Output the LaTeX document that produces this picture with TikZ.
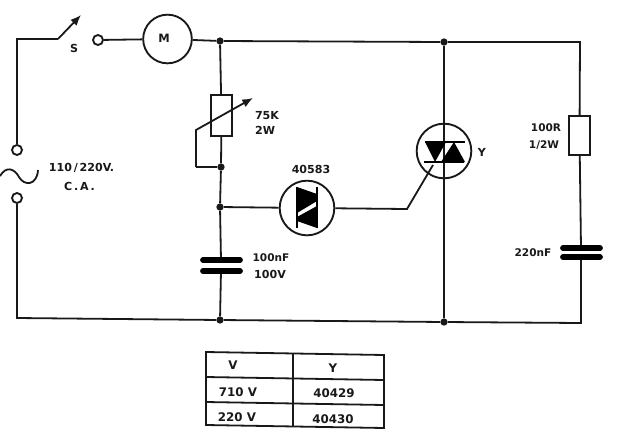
\documentclass[tikz,border=0pt]{standalone}
\usepackage{fontspec}
\setmainfont{DejaVu Sans}
\usetikzlibrary{arrows.meta}
\tikzset{
  wire/.style={line width=1.35pt,black!90},
  part/.style={draw=black!90,line width=1.4pt,fill=white,inner sep=0pt},
  term/.style={circle,part,minimum size=7.5pt},
  dot/.style={circle,fill=black!90,inner sep=0pt,minimum size=5.5pt},
  plate/.style={line width=4.3pt,line cap=round,black},
  sym/.style={fill=black,draw=none},
  bar/.style={line width=1.8pt,black},
  lbl/.style={font=\bfseries\fontsize{8.3}{9}\selectfont,inner sep=0pt,black!90},
  cell/.style={font=\bfseries\fontsize{8.9}{9}\selectfont,inner sep=0pt,black!90},
  tbl/.style={line width=1.35pt,black!90},
  tip/.style={-{Latex[length=8pt,width=6.5pt]}}
}
\begin{document}
\begin{tikzpicture}[x=0.75pt,y=-0.75pt]
\useasboundingbox (0,0) rectangle (625,433);
% nodes
\node[term] (t1) at (98,40) {};
\node[term] (t2) at (17,150) {};
\node[term] (t3) at (17,198) {};
\node[part,circle,minimum size=36.5pt] (mot) at (167.5,39) {};
\node[dot] (j1) at (220,41) {};
\node[dot] (j2) at (444,42) {};
\node[dot] (j3) at (221,167) {};
\node[dot] (j4) at (220,207) {};
\node[dot] (j5) at (220,320) {};
\node[dot] (j6) at (444,322) {};
\node[part,minimum width=15.5pt,minimum height=30.5pt] (pot) at (221.5,115.5) {};
\node[part,minimum width=15.5pt,minimum height=29pt] (res) at (579.5,135.5) {};
\node[part,circle,minimum size=41pt] (diac) at (307,208) {};
\node[part,circle,minimum size=41pt] (triac) at (444,151) {};
\coordinate (c1a) at (221,260); \coordinate (c1b) at (221,271);
\coordinate (c2a) at (581,248); \coordinate (c2b) at (581,257);
\coordinate (tl) at (17,39);
\coordinate (sw) at (58,39);
\coordinate (swt) at (81,15);
\coordinate (tr) at (580,42);
\coordinate (bl) at (17,318);
\coordinate (br) at (581,323);
\coordinate (pa) at (196,130);
\coordinate (pb) at (253,98);
\coordinate (pc) at (196,167);
\coordinate (gk) at (407,209);
\coordinate (gg) at (433,165);
% wires
\draw[wire] (t2) -- (tl) -- (sw);
\draw[wire,tip] (sw) -- (swt);
\draw[wire] (t1) -- (mot);
\draw[wire] (mot) -- (j1) -- (j2) -- (tr) -- (res);
\draw[wire] (j1) -- (pot);
\draw[wire] (pot) -- (j3) -- (j4) -- (c1a);
\draw[wire] (c1b) -- (j5);
\draw[wire] (t3) -- (bl) -- (j5) -- (j6) -- (br) -- (c2b);
\draw[wire] (res) -- (c2a);
\draw[wire] (j2) -- (triac);
\draw[wire] (triac) -- (j6);
\draw[wire] (j4) -- (diac);
\draw[wire] (diac) -- (gk) -- (gg);
% potentiometer slider
\draw[wire,tip] (pc) -- (pa) -- (pb);
\draw[wire] (pc) -- (j3);
% capacitors
\draw[plate] (203,260) -- (240,260);
\draw[plate] (203,271) -- (240,271);
\draw[plate] (563,248) -- (600,248);
\draw[plate] (563,257) -- (600,257);
% AC source
\draw[wire] (0,176) .. controls (6,166) and (14,168) .. (19,177) .. controls (24,186) and (37,186) .. (38,170);
% motor
\node[lbl,font=\bfseries\fontsize{8.6}{9}\selectfont] (lm) at (164,38) {M};
% triac symbol
\draw[wire] (444,124) -- (444,178);
\fill[sym] (425,142) -- (446,142) -- (435,162) -- cycle;
\fill[sym] (441,162) -- (465,162) -- (454,142) -- cycle;
\draw[bar] (425,142) -- (465,142);
\draw[bar] (424,162) -- (464,162);
% diac symbol
\fill[sym] (297,187) -- (297,213) -- (317,201) -- (317,194) -- cycle;
\fill[sym] (317,206) -- (317,228) -- (297,221) -- (297,217) -- cycle;
\draw[bar] (297,187) -- (297,228);
\draw[bar] (317,187) -- (317,228);
% labels
\node[lbl] (ls) at (74,48) {S};
\node[lbl] (lv) at (81.5,168) {110\,/\,220V.};
\node[lbl] (lca) at (79.5,186) {C\,.\,A\,.};
\node[lbl] (l75) at (267,116) {75K};
\node[lbl] (l2w) at (265,130) {2W};
\node[lbl] (l40) at (311,169) {40583};
\node[lbl] (ly) at (482,152) {Y};
\node[lbl,font=\bfseries\fontsize{7.9}{9}\selectfont] (l100n) at (271,258) {100nF};
\node[lbl] (l100v) at (270,274) {100V};
\node[lbl,font=\bfseries\fontsize{7.9}{9}\selectfont] (l100r) at (546,128) {100R};
\node[lbl,font=\bfseries\fontsize{7.9}{9}\selectfont] (l12) at (544,145) {1/2W};
\node[lbl,font=\bfseries\fontsize{7.9}{9}\selectfont] (l220) at (533,253) {220nF};
% table
\coordinate (a1) at (206,352); \coordinate (a2) at (293,354); \coordinate (a3) at (384,355);
\coordinate (b1) at (206,377); \coordinate (b3) at (384,380);
\coordinate (d1) at (206,402); \coordinate (d3) at (384,405);
\coordinate (e1) at (206,425); \coordinate (e2) at (293,427); \coordinate (e3) at (384,428);
\draw[tbl] (a1) -- (a3) -- (e3) -- (e1) -- cycle;
\draw[tbl] (a2) -- (e2);
\draw[tbl] (b1) -- (b3);
\draw[tbl] (d1) -- (d3);
\node[cell] (c11) at (233,365) {V};
\node[cell] (c12) at (333,368) {Y};
\node[cell] (c21) at (238,392) {710 V};
\node[cell] (c22) at (334,393) {40429};
\node[cell] (c31) at (237,417) {220 V};
\node[cell] (c32) at (333,419) {40430};
\end{tikzpicture}
\end{document}
